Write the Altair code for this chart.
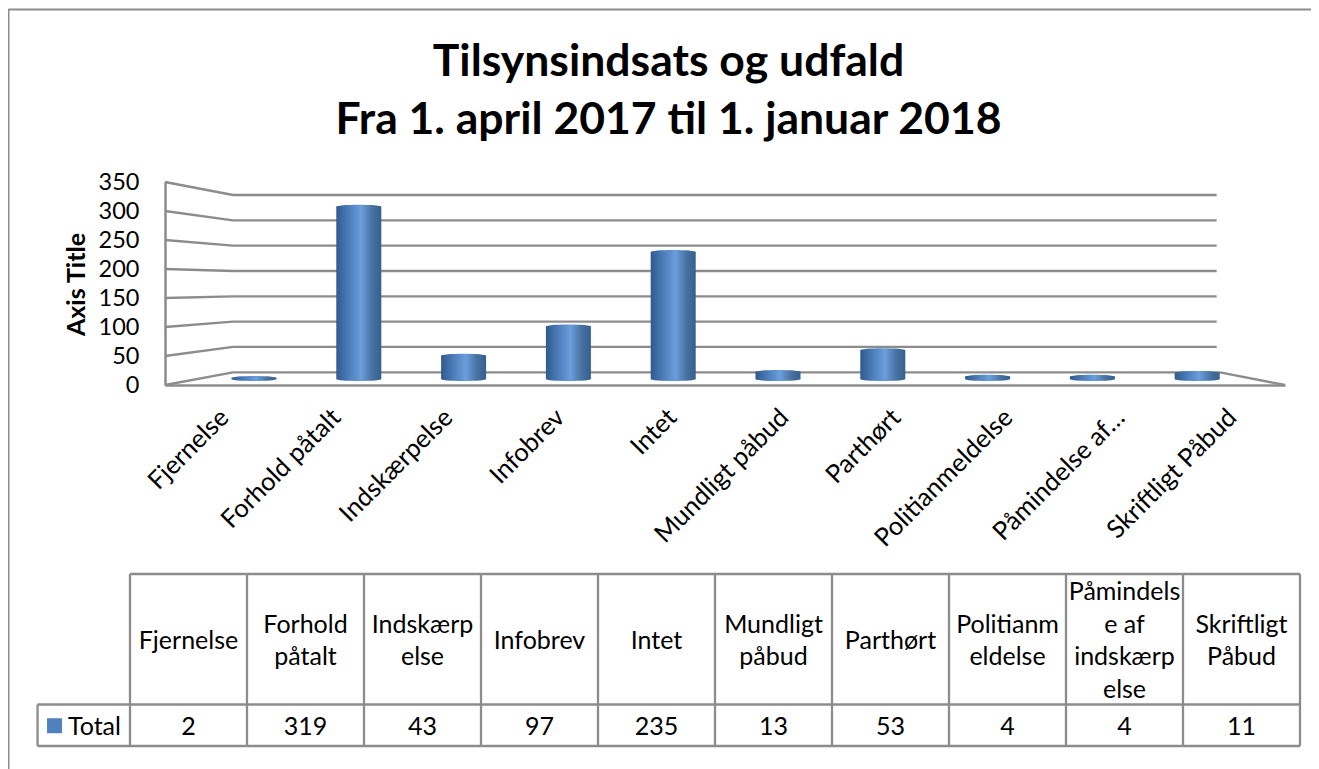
import altair as alt
import pandas as pd

# ---- values ----
categories = ["Fjernelse", "Forhold påtalt", "Indskærpelse", "Infobrev", "Intet",
              "Mundligt påbud", "Parthørt", "Politianmeldelse",
              "Påmindelse af indskærpelse", "Skriftligt Påbud"]
axis_labels = ["Fjernelse", "Forhold påtalt", "Indskærpelse", "Infobrev", "Intet",
               "Mundligt påbud", "Parthørt", "Politianmeldelse",
               "Påmindelse af…", "Skriftligt Påbud"]
table_heads = [["Fjernelse"], ["Forhold", "påtalt"], ["Indskærp", "else"], ["Infobrev"], ["Intet"],
               ["Mundligt", "påbud"], ["Parthørt"], ["Politianm", "eldelse"],
               ["Påmindels", "e af", "indskærp", "else"], ["Skriftligt", "Påbud"]]
totals = [2, 319, 43, 97, 235, 13, 53, 4, 4, 11]
ticks = [0, 50, 100, 150, 200, 250, 300, 350]
title_lines = ["Tilsynsindsats og udfald", "Fra 1. april 2017 til 1. januar 2018"]

FONT = "Lato"
LINE = "#8c8c8c"
W, H = 1303, 761

# perspective of the back wall, in front-plane units
BACK_X0, BACK_X1 = 0.607, 9.39
BACK_END = 9.42
BACK_BASE, BACK_SCALE = 21.9, 0.8734

x_front = alt.Scale(domain=[0, 10], range=[157, 1277])
y_front = alt.Scale(domain=[0, 350], range=[377, 174])

walls = pd.DataFrame(
    [{"x": BACK_X0, "x2": BACK_X1, "y": BACK_BASE + BACK_SCALE * t, "y2": BACK_BASE + BACK_SCALE * t}
     for t in ticks if t > 0]
    + [{"x": 0, "x2": BACK_X0, "y": t, "y2": BACK_BASE + BACK_SCALE * t} for t in ticks]
    + [{"x": BACK_X0, "x2": BACK_END, "y": BACK_BASE, "y2": BACK_BASE},
       {"x": BACK_END, "x2": 10, "y": BACK_BASE, "y2": 0}]
)

grid = alt.Chart(walls).mark_rule(color=LINE, strokeWidth=2.3).encode(
    x=alt.X("x:Q", scale=x_front, axis=None),
    x2="x2:Q",
    y=alt.Y("y:Q", scale=y_front, axis=alt.Axis(
        values=ticks, grid=False, ticks=False, domain=True, domainColor=LINE, domainWidth=2.5,
        offset=-157, labelPadding=26, labelFont=FONT, labelFontSize=23.5, labelColor="#000000",
        title="Axis Title", titleFont=FONT, titleFontSize=25, titleFontWeight="bold",
        titleColor="#000000", titleAngle=270, titleX=-76, titleY=276)),
    y2="y2:Q",
)

x_axis = alt.Chart(pd.DataFrame({"cat": categories, "label": axis_labels})).mark_point(opacity=0).encode(
    x=alt.X("label:N", sort=axis_labels,
            scale=alt.Scale(domain=axis_labels, range=[157, 1277], paddingInner=0, paddingOuter=0),
            axis=alt.Axis(title=None, labelAngle=-45, labelAlign="right", labelBaseline="middle",
                          ticks=False, domain=True, domainColor=LINE, domainWidth=2.5,
                          offset=-384, labelPadding=28, labelOffset=3, labelOverlap=False,
                          labelLimit=400, labelFont=FONT, labelFontSize=25.5, labelColor="#000000")),
    y=alt.Y("cat:N", axis=None),
)

# ---- cylinders ----
bars_df = pd.DataFrame({"cat": categories, "value": totals, "base": [0] * len(totals)})
x_mid = alt.Scale(domain=categories, range=[193.6, 1241.6], paddingInner=0, paddingOuter=0)
y_mid = alt.Scale(domain=[0, 350], range=[371, 182])
cyl = alt.Gradient(gradient="linear", x1=0, x2=1, y1=0, y2=0, stops=[
    alt.GradientStop(offset=0, color="#2f5a8e"),
    alt.GradientStop(offset=0.3, color="#4f80bd"),
    alt.GradientStop(offset=0.55, color="#6b9edc"),
    alt.GradientStop(offset=0.8, color="#47719f"),
    alt.GradientStop(offset=1, color="#345f90"),
])
BAR_W = 45
ELLIPSE = "M -1 0 A 1 0.09 0 1 0 1 0 A 1 0.09 0 1 0 -1 0 Z"
enc_x = alt.X("cat:N", sort=categories, scale=x_mid, axis=None)

bars = alt.Chart(bars_df).mark_bar(size=BAR_W, fill=cyl).encode(
    x=enc_x,
    y=alt.Y("value:Q", scale=y_mid, axis=None),
    y2="base:Q",
)
caps_low = alt.Chart(bars_df).mark_point(shape=ELLIPSE, filled=True, fill=cyl, opacity=1,
                                         size=BAR_W ** 2, strokeWidth=0).encode(
    x=enc_x, y=alt.Y("base:Q", scale=y_mid, axis=None))
caps_top = alt.Chart(bars_df).mark_point(shape=ELLIPSE, filled=True, fill=cyl, opacity=1,
                                         size=BAR_W ** 2, strokeWidth=0).encode(
    x=enc_x, y=alt.Y("value:Q", scale=y_mid, axis=None))

# ---- data table ----
x_tab = alt.Scale(domain=[0, 10], range=[122, 1292])
y_tab = alt.Scale(domain=[0, 172], range=[566, 738])
ROW_TOP, ROW_MID, ROW_BOT = 0, 130.5, 172
COL_LEFT = -0.79
LINE_STEP = 32.5
rows = pd.DataFrame(
    [{"x": i, "x2": i, "y": ROW_TOP, "y2": ROW_BOT} for i in range(11)]
    + [{"x": COL_LEFT, "x2": COL_LEFT, "y": ROW_MID, "y2": ROW_BOT},
       {"x": 0, "x2": 10, "y": ROW_TOP, "y2": ROW_TOP},
       {"x": COL_LEFT, "x2": 10, "y": ROW_MID, "y2": ROW_MID},
       {"x": COL_LEFT, "x2": 10, "y": ROW_BOT, "y2": ROW_BOT}]
)
table_lines = alt.Chart(rows).mark_rule(color=LINE, strokeWidth=2.3).encode(
    x=alt.X("x:Q", scale=x_tab, axis=None), x2="x2:Q",
    y=alt.Y("y:Q", scale=y_tab, axis=None), y2="y2:Q",
)
cell_rows = []
for i, head in enumerate(table_heads):
    for j, part in enumerate(head):
        cell_rows.append({"x": i + 0.5,
                          "y": (ROW_TOP + ROW_MID) / 2 + (j - (len(head) - 1) / 2) * LINE_STEP,
                          "t": part})
    cell_rows.append({"x": i + 0.5, "y": (ROW_MID + ROW_BOT) / 2 + 0.5, "t": str(totals[i])})
cells = pd.DataFrame(cell_rows)
table_text = alt.Chart(cells).mark_text(font=FONT, fontSize=25, color="#000000", dy=1.5,
                                        baseline="middle", align="center").encode(
    x=alt.X("x:Q", scale=x_tab, axis=None),
    y=alt.Y("y:Q", scale=y_tab, axis=None),
    text="t:N",
)
legend_df = pd.DataFrame({"sx": [-0.645], "tx": [-0.53], "y": [(ROW_MID + ROW_BOT) / 2 + 0.5], "name": ["Total"]})
swatch = alt.Chart(legend_df).mark_point(shape="square", filled=True, color="#4f81bd", opacity=1,
                                         size=225, strokeWidth=0).encode(
    x=alt.X("sx:Q", scale=x_tab, axis=None), y=alt.Y("y:Q", scale=y_tab, axis=None))
legend_text = alt.Chart(legend_df).mark_text(font=FONT, fontSize=25, color="#000000", align="left", dy=1.5,
                                             baseline="middle").encode(
    x=alt.X("tx:Q", scale=x_tab, axis=None), y=alt.Y("y:Q", scale=y_tab, axis=None), text="name:N")

# ---- outer frame (only its top and left edges fall inside the picture) ----
frame_top = alt.Chart(pd.DataFrame({"a": [0]})).mark_rule(color=LINE, strokeWidth=2).encode(
    x=alt.value(0.5), x2=alt.value(W), y=alt.value(1.5))
frame_left = alt.Chart(pd.DataFrame({"a": [0]})).mark_rule(color=LINE, strokeWidth=2).encode(
    x=alt.value(0.5), y=alt.value(1), y2=alt.value(H))

chart = alt.layer(
    frame_top, frame_left, grid, x_axis, bars, caps_low, caps_top,
    table_lines, table_text, swatch, legend_text,
).resolve_scale(x="independent", y="independent").properties(
    width=W, height=H, padding=0, autosize=alt.AutoSizeParams(type="none"),
    background="white",
    title=alt.TitleParams(text=title_lines, font=FONT, fontSize=44.5, fontWeight="bold", color="#000000",
                          anchor="middle", orient="top", offset=-135, lineHeight=58, dx=9),
).configure_view(stroke=None)

chart.save("out.html", embed_options={"renderer": "svg", "actions": False})
